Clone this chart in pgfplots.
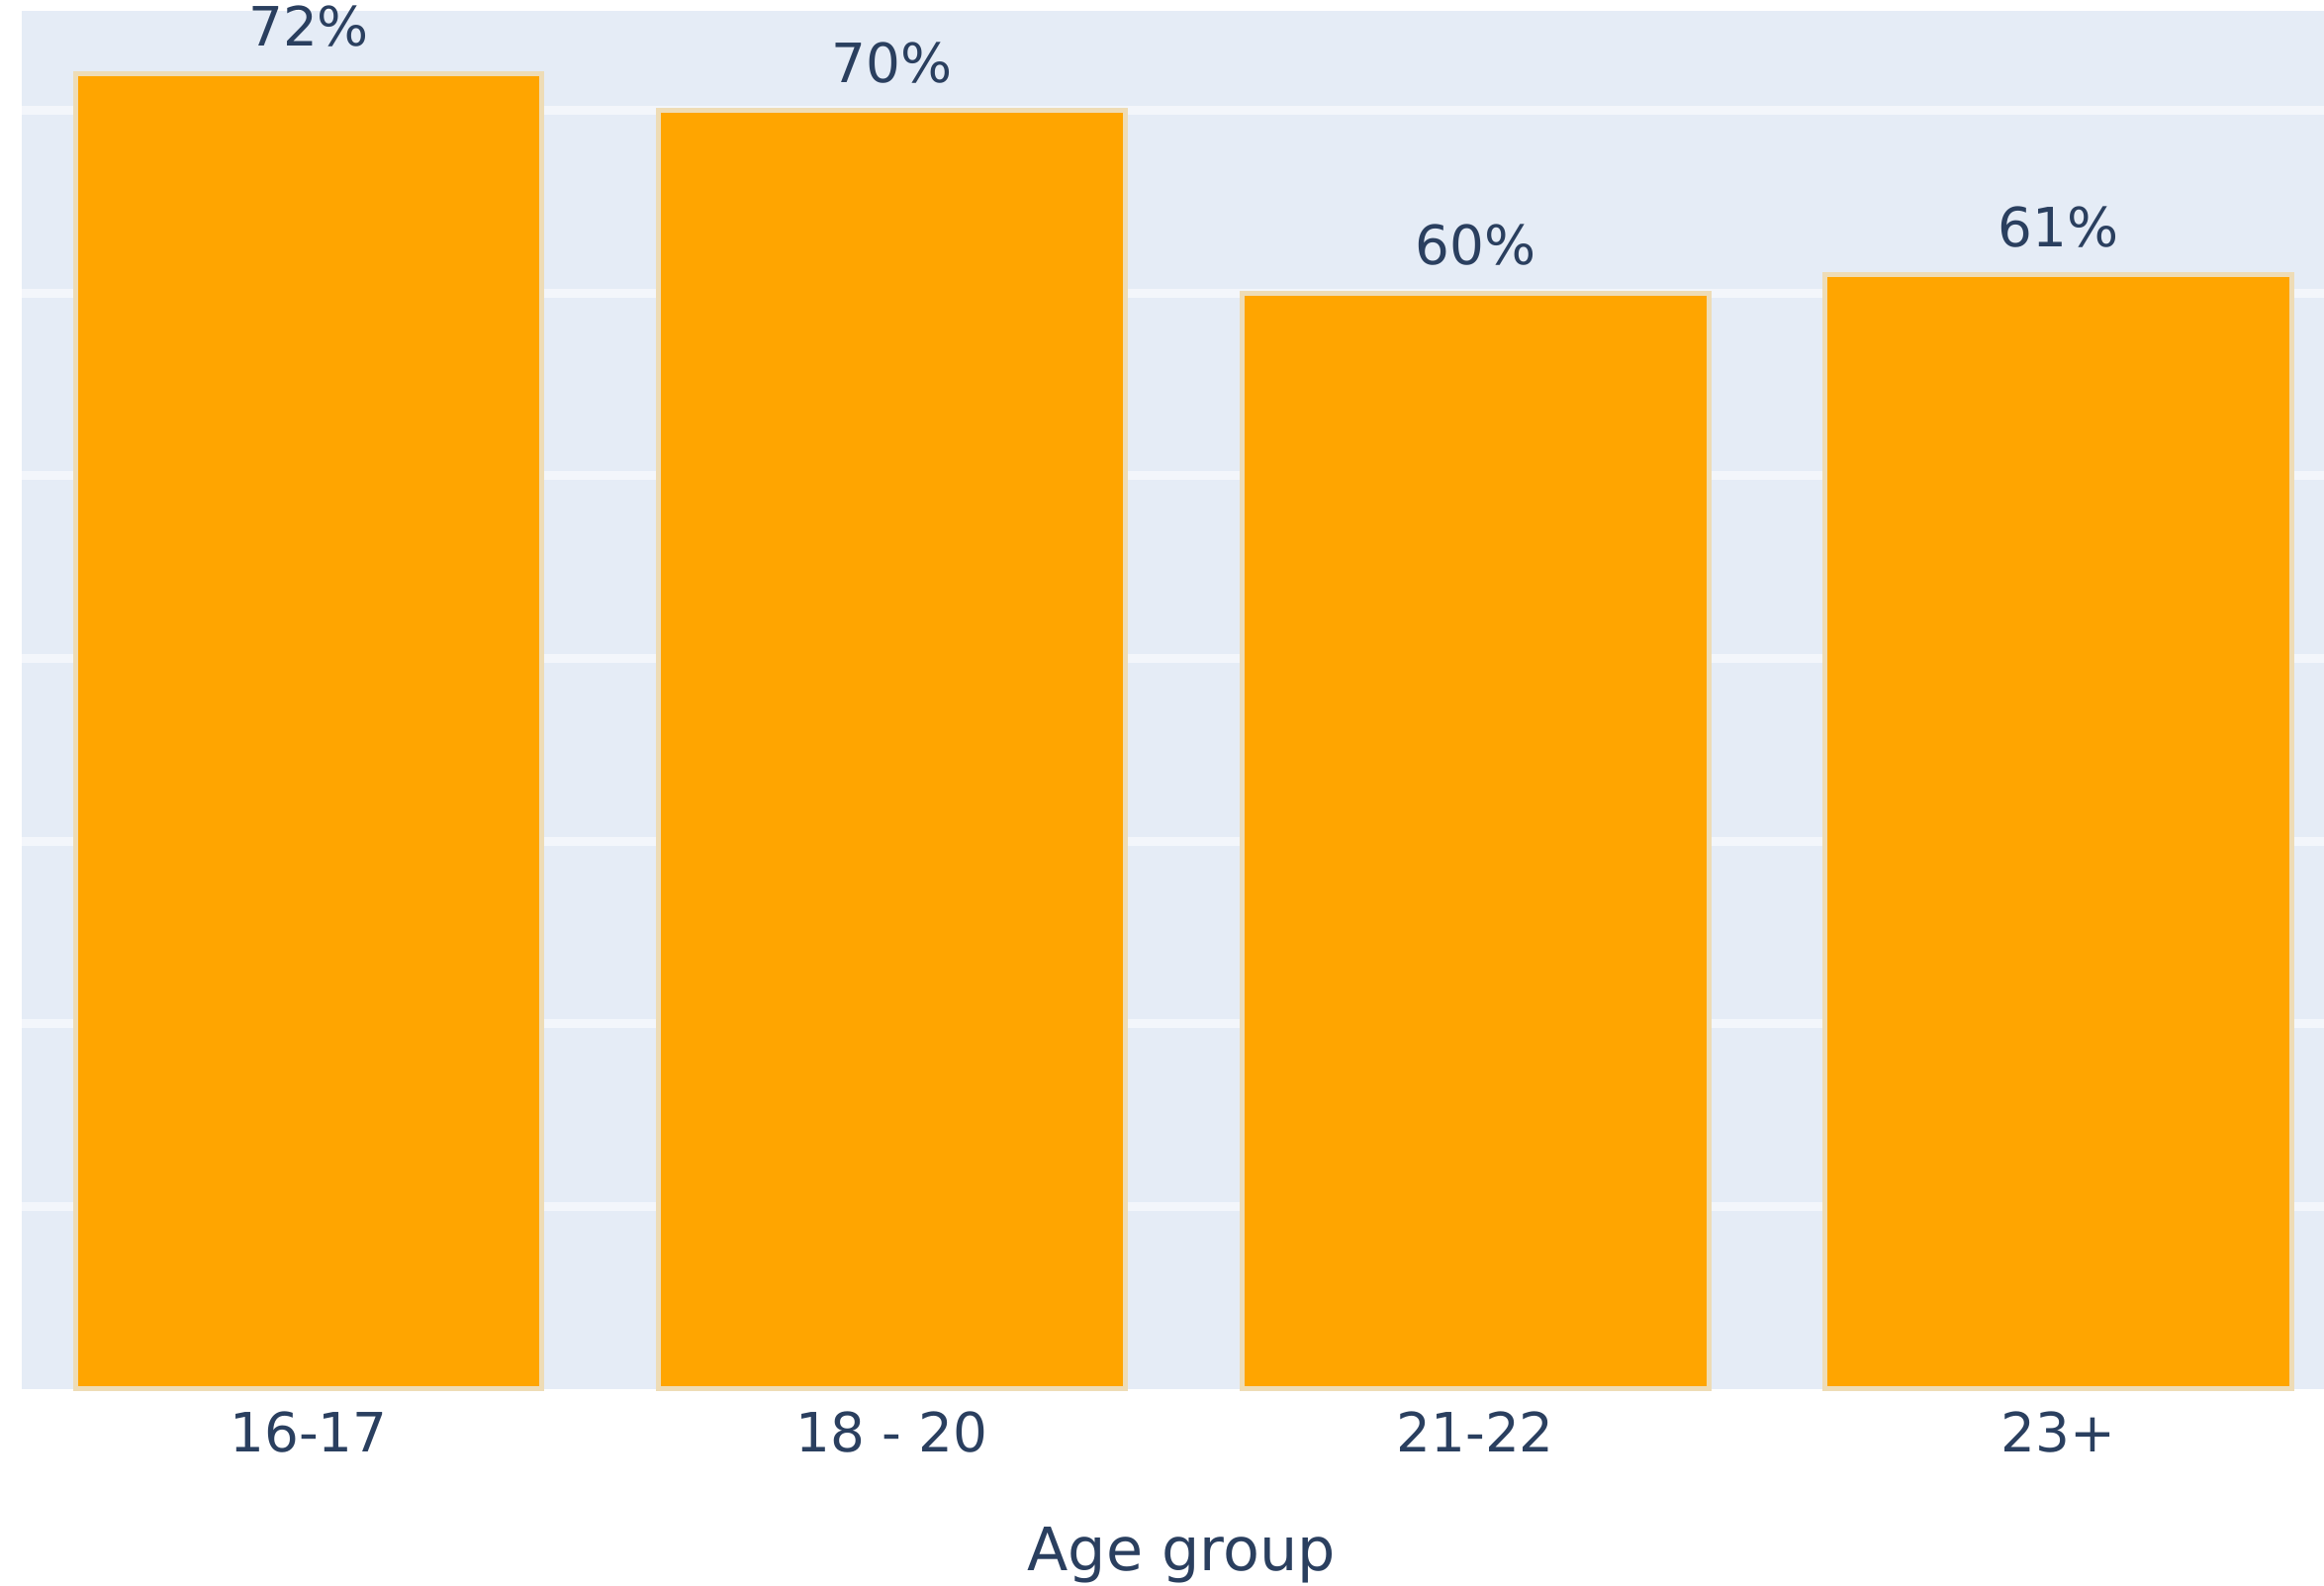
\documentclass[border=0pt]{standalone}
\usepackage{fontspec}
\setmainfont{DejaVu Sans}
\usepackage{pgfplots}
\pgfplotsset{compat=1.18}

\definecolor{plotbg}{HTML}{E5ECF6}
\definecolor{barfill}{HTML}{FFA500}
\definecolor{barline}{HTML}{EEDCB6}
\definecolor{labeltext}{HTML}{2A3F5F}
\definecolor{gridline}{HTML}{F3F6FB}

\newcommand{\tickfont}{\fontsize{13.7}{16}\selectfont}
\newcommand{\titlefont}{\fontsize{15.1}{18}\selectfont}

\begin{document}
\begin{tikzpicture}
\useasboundingbox (-5.5pt,-49.75pt) rectangle (581.75pt,351pt);
\begin{axis}[
  at={(0,0)}, anchor=south west,
  scale only axis, width=581.75pt, height=348.25pt,
  xmin=-0.492, xmax=3.455, ymin=0, ymax=75.44,
  /pgf/number format/assume math mode=true,
  axis background/.style={fill=plotbg},
  axis line style={draw=none},
  major tick length=0pt,
  ytick={10,20,...,70}, yticklabels={{},{},{},{},{},{},{}},
  ymajorgrids, major grid style={gridline, line width=2.25pt},
  xtick={0,1,2,3}, xticklabels={16-17,18 - 20,21-22,23+},
  xticklabel style={anchor=north, inner sep=0pt, yshift=-5.4pt,
    font=\tickfont, text=labeltext},
  xlabel={Age group},
  xlabel style={at={(axis description cs:0.5037,0)}, anchor=north,
    inner sep=0pt, yshift=-34.75pt, font=\titlefont, text=labeltext},
  ybar, bar width=0.8, clip=false,
  nodes near coords={\pgfmathprintnumber{\pgfplotspointmeta}\%},
  nodes near coords style={anchor=south, inner sep=0pt, yshift=6.25pt,
    font=\tickfont, text=labeltext},
]
\addplot[fill=barfill, draw=barline, line width=1.25pt]
  coordinates {(0,72) (1,70) (2,60) (3,61)};
\end{axis}
\end{tikzpicture}
\end{document}
